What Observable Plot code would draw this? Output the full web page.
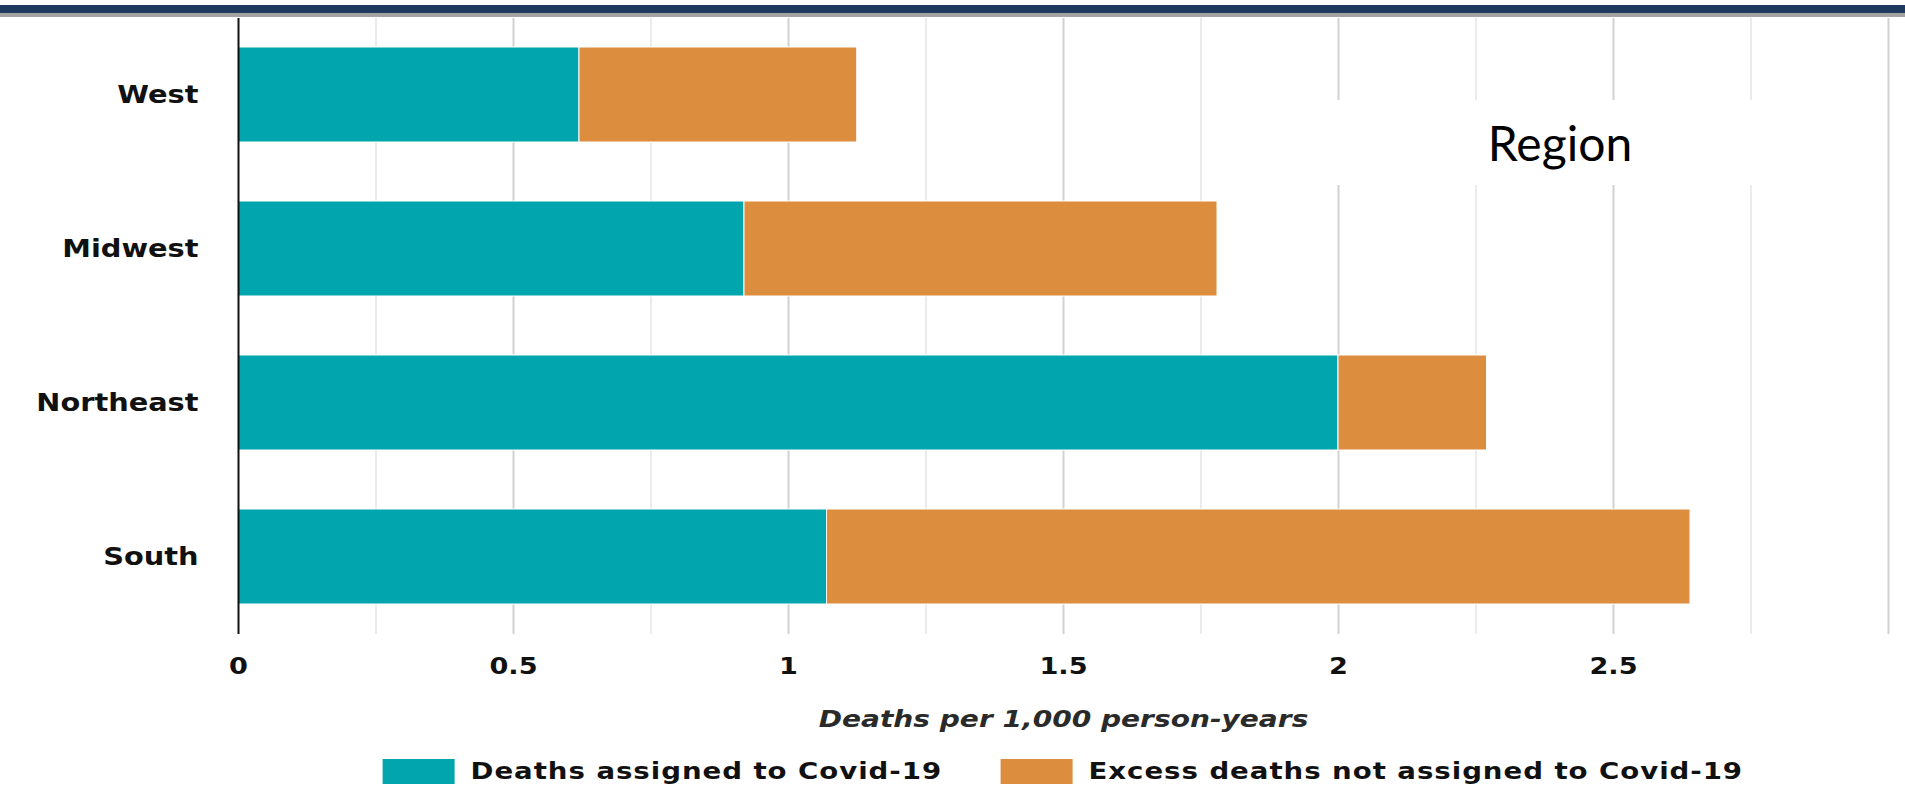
<!DOCTYPE html>
<html>
<head>
<meta charset="utf-8">
<script src="https://cdn.jsdelivr.net/npm/d3@7"></script>
<script src="https://cdn.jsdelivr.net/npm/@observablehq/plot@0.6"></script>
<style>
  html, body { margin: 0; padding: 0; background: #fff; width: 1905px; height: 785px; overflow: hidden; }
  #topwhite { height: 5px; background: #fff; }
  #navy { height: 8px; background: #1F3A5F; }
  #grayband { height: 4px; background: #A3A3A3; }
  #chart svg { display: block; }
  #chart [aria-label^="y-axis"] text { font-family: "DejaVu Sans", sans-serif; font-weight: bold; font-size: 24px; fill: #111; }
  #chart [aria-label^="x-axis"] text { font-family: "DejaVu Sans", sans-serif; font-weight: bold; font-size: 23px; fill: #111; }
  #chart g[aria-label="text"] text { font-family: "DejaVu Sans", sans-serif; font-weight: bold; font-style: italic; font-size: 23px; fill: #2a2a2a; }
  #legend { padding: 19px 17px 0 238px; box-sizing: border-box; width: 1905px; }
  #legend .lg-swatches { font-family: "DejaVu Sans", sans-serif !important; font-weight: bold; font-size: 23px !important; letter-spacing: 0.8px; color: #111;
    justify-content: center; margin: 0 !important; min-height: 25px !important; line-height: 25px; display: flex; transform: scaleX(1.2); }
  #legend .lg-swatch { margin-right: 49px !important; }
  #legend .lg-swatch:last-child { margin-right: 0 !important; }
  #legend .lg-swatch > svg { margin-right: 13px !important; }
  #region { position: absolute; left: 1320px; top: 100px; width: 480px; height: 85px; background: #fff;
    font-family: Lato, sans-serif; font-size: 48px; line-height: 85px; text-align: center; color: #000; }
</style>
</head>
<body>
<div id="topwhite"></div><div id="navy"></div><div id="grayband"></div>
<div id="chart"></div>
<div id="legend"></div>
<div id="region"></div>
<script>
const regions = ["West", "Midwest", "Northeast", "South"];
const seriesNames = ["Deaths assigned to Covid-19", "Excess deaths not assigned to Covid-19"];
const covidDeaths = [0.62, 0.92, 2.0, 1.07];
const excessDeaths = [0.505, 0.86, 0.27, 1.57];
const seriesColors = ["#00A5AE", "#DC8D3D"];
const tickValues = [0, 0.5, 1, 1.5, 2, 2.5];
const majorGrid = [0.5, 1, 1.5, 2, 2.5, 3];
const minorGrid = [0.25, 0.75, 1.25, 1.75, 2.25, 2.75];
const xTitle = "Deaths per 1,000 person-years";
const regionLabel = "Region";

const data = [];
regions.forEach((r, i) => {
  data.push({region: r, series: seriesNames[0], value: covidDeaths[i]});
  data.push({region: r, series: seriesNames[1], value: excessDeaths[i]});
});

const chart = Plot.plot({
  width: 1905,
  height: 723,
  marginTop: 1,
  marginBottom: 106,
  marginLeft: 238,
  marginRight: 17,
  x: {domain: [0, 3], ticks: tickValues, tickFormat: d => `${d}`, tickSize: 0, tickPadding: 23, label: null},
  y: {domain: regions, paddingInner: 0.383, paddingOuter: 0.19, tickSize: 0, tickPadding: 40, label: null},
  color: {domain: seriesNames, range: seriesColors},
  marks: [
    Plot.ruleX(minorGrid, {stroke: "#EBEBEB", strokeWidth: 2}),
    Plot.ruleX(majorGrid, {stroke: "#D2D2D2", strokeWidth: 2}),
    Plot.barX(data, {y: "region", x: "value", fill: "series", stroke: "white", strokeWidth: 1}),
    Plot.ruleX([0], {stroke: "#111", strokeWidth: 2}),
    Plot.text([xTitle], {frameAnchor: "bottom", dy: 85, lineAnchor: "middle"})
  ]
});
document.getElementById("chart").appendChild(chart);

// widen the glyphs horizontally, like the reference's wide typeface
function stretch(sel, factor) {
  chart.querySelectorAll(sel).forEach(t => {
    const w = t.getComputedTextLength();
    t.setAttribute("textLength", (w * factor).toFixed(1));
    t.setAttribute("lengthAdjust", "spacingAndGlyphs");
  });
}
stretch('[aria-label^="y-axis"] text', 1.2);
stretch('[aria-label^="x-axis"] text', 1.18);
stretch('g[aria-label="text"] text', 1.22);

const leg = Plot.legend({
  color: {domain: seriesNames, range: seriesColors},
  legend: "swatches",
  swatchWidth: 60,
  swatchHeight: 25,
  className: "lg"
});
document.getElementById("legend").appendChild(leg);
document.getElementById("region").textContent = regionLabel;
</script>
</body>
</html>
